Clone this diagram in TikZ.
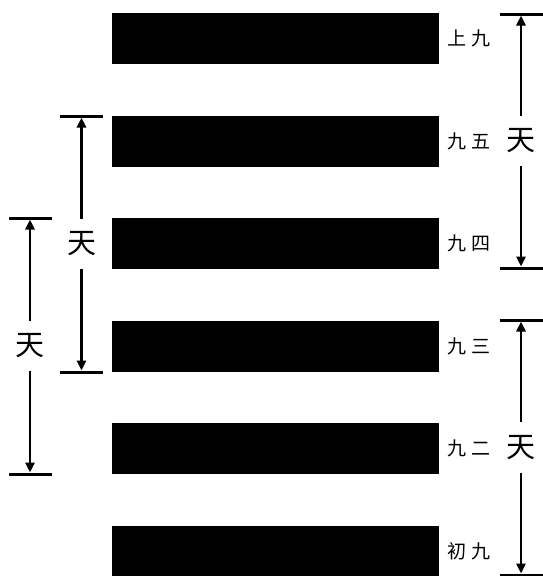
\documentclass[tikz,border=0pt]{standalone}
\usepackage{fontspec}
\newfontfamily\cjk{Noto Sans CJK SC}
\newfontfamily\cjkwide[LetterSpace=25]{Noto Sans CJK SC}
\usetikzlibrary{arrows.meta, positioning, calc}

\begin{document}
\begin{tikzpicture}[
        x=1pt, y=-1pt,
        yao/.style={
            rectangle,
            minimum width=327pt,
            minimum height=51pt,
            inner sep=0pt,
            outer sep=0pt,
            fill=black
        },
        yaoming/.style={
            font=\cjkwide\fontsize{19}{19}\selectfont,
            inner sep=0pt,
            anchor=west
        },
        bound/.style={
            rectangle,
            minimum width=43pt,
            minimum height=3pt,
            inner sep=0pt,
            outer sep=0pt,
            fill=black
        },
        gua/.style={
            font=\cjk\fontsize{29}{29}\selectfont,
            minimum height=50pt,
            inner sep=0pt
        },
        span/.style={
            line width=2.8pt,
            -{Triangle[length=10pt,width=9pt]}
        }
    ]
        \useasboundingbox (0,0) rectangle (543,576);

        % six yang lines, top to bottom
        \node[yao] (shang) at (275,38.5) {};
        \node[yao, below=51.5pt of shang] (wu) {};
        \node[yao, below=51.5pt of wu] (si) {};
        \node[yao, below=51.5pt of si] (san) {};
        \node[yao, below=51.5pt of san] (er) {};
        \node[yao, below=51.5pt of er] (chu) {};

        \node[yaoming, right=9pt of shang] (lshang) {上九};
        \node[yaoming, right=9pt of wu] (lwu) {九五};
        \node[yaoming, right=9pt of si] (lsi) {九四};
        \node[yaoming, right=9pt of san] (lsan) {九三};
        \node[yaoming, right=9pt of er] (ler) {九二};
        \node[yaoming, right=9pt of chu] (lchu) {初九};

        % upper trigram
        \node[bound] (rtop) at (521,14) {};
        \node[bound] (rbot) at (521,268) {};
        \node[gua] (rtian) at ($(rtop)!0.5!(rbot)$) {天};
        \draw[span] (rtian) -- (rtop);
        \draw[span] (rtian) -- (rbot);

        % lower trigram
        \node[bound] (ltop) at (521,320) {};
        \node[bound] (lbot) at (521,575) {};
        \node[gua] (ltian) at ($(ltop)!0.5!(lbot)$) {天};
        \draw[span] (ltian) -- (ltop);
        \draw[span] (ltian) -- (lbot);

        % inner nuclear trigram
        \node[bound] (ntop) at (81.5,116) {};
        \node[bound] (nbot) at (81.5,372) {};
        \node[gua] (ntian) at ($(ntop)!0.5!(nbot)$) {天};
        \draw[span] (ntian) -- (ntop);
        \draw[span] (ntian) -- (nbot);

        % lower nuclear trigram
        \node[bound] (mtop) at (30,218) {};
        \node[bound] (mbot) at (30,474) {};
        \node[gua] (mtian) at ($(mtop)!0.5!(mbot)$) {天};
        \draw[span] (mtian) -- (mtop);
        \draw[span] (mtian) -- (mbot);
    \end{tikzpicture}
\end{document}
